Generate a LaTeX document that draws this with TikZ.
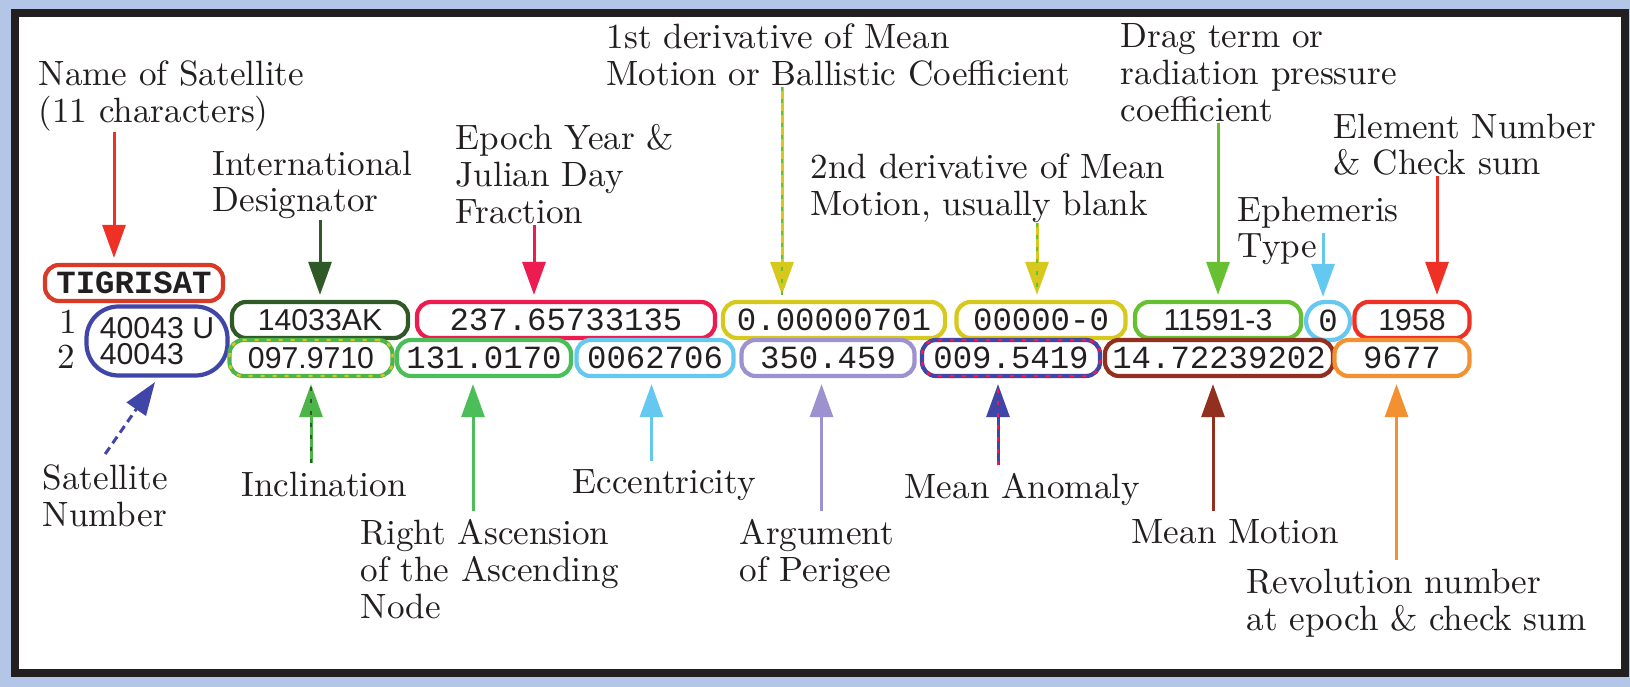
\documentclass[tikz,border=0pt]{standalone}
\usepackage{fontspec}
\setmonofont{Liberation Mono}
\setsansfont{Liberation Sans}
\usepackage{xcolor}
\usetikzlibrary{arrows.meta}

\definecolor{bgblue}{RGB}{180,198,231}
\definecolor{ink}{RGB}{35,31,32}
\definecolor{namered}{RGB}{217,58,37}
\definecolor{arrred}{RGB}{238,49,36}
\definecolor{darkgreen}{RGB}{47,90,40}
\definecolor{crimson}{RGB}{237,27,79}
\definecolor{dotyellow}{RGB}{215,200,30}
\definecolor{midgreen}{RGB}{76,180,72}
\definecolor{raangreen}{RGB}{75,190,90}
\definecolor{draggreen}{RGB}{102,192,50}
\definecolor{skyblue}{RGB}{100,200,240}
\definecolor{lavender}{RGB}{158,145,208}
\definecolor{satblue}{RGB}{64,70,168}
\definecolor{mmbrown}{RGB}{146,48,32}
\definecolor{revorange}{RGB}{243,145,49}

\begin{document}
\begin{tikzpicture}[x=0.1mm, y=-0.1mm,
    lbl/.style={anchor=north west, align=left, inner sep=0pt, text=ink,
                font=\fontsize{10}{10.5}\selectfont},
    val/.style={draw, rounded corners=1.4mm, line width=1.2pt, minimum height=3.6mm,
                inner sep=0pt, text=ink, font=\ttfamily\fontsize{9.2}{10}\selectfont},
    sval/.style={val, font=\sffamily\fontsize{8.6}{10}\selectfont},
    arr/.style={-{Triangle[width=2.3mm, length=3.3mm]}, line width=0.3mm},
    dotover/.style={postaction={draw=#1, line width=0.7pt, dash pattern=on 0.4mm off 0.8mm, -}}
  ]
  \useasboundingbox (0,0) rectangle (1630,687);
  \fill[bgblue] (0,0) rectangle (1630,687);
  \draw[ink, fill=white, line width=0.85mm] (15,13) rectangle (1625,673);

  % name line and line numbers
  \node[val, draw=namered, minimum width=17.8mm,
        font=\ttfamily\bfseries\fontsize{9.2}{10}\selectfont] (satname) at (134,283) {TIGRISAT};
  \node[inner sep=0pt, text=ink, font=\fontsize{10}{10}\selectfont] (linea) at (68,322) {1};
  \node[inner sep=0pt, text=ink, font=\fontsize{10}{10}\selectfont] (lineb) at (66,357) {2};
  \node[sval, draw=satblue, rounded corners=3.2mm, minimum width=14.1mm, minimum height=6.9mm,
        align=left, font=\sffamily\fontsize{8.6}{7.6}\selectfont] (satnum) at (157,341) {40043 U\\40043};

  % line 1
  \node[sval, draw=darkgreen, minimum width=17.6mm] (intdes) at (320,320) {14033AK};
  \node[val, draw=crimson, minimum width=29.8mm] (epoch) at (566,320) {237.65733135};
  \node[val, draw=dotyellow, minimum width=22.2mm] (ndot) at (834,320) {0.00000701};
  \node[val, draw=dotyellow, minimum width=16.9mm] (nddot) at (1041,320) {00000-0};
  \node[sval, draw=draggreen, minimum width=16.6mm] (bstar) at (1218,320) {11591-3};
  \node[val, draw=skyblue, rounded corners=1.9mm, minimum width=4.4mm,
        minimum height=3.8mm] (ephtype) at (1328,321) {0};
  \node[sval, draw=arrred, minimum width=11.5mm] (elset) at (1412,320) {1958};

  % line 2
  \node[sval, draw=midgreen, dotover=dotyellow, minimum width=16.3mm] (incl) at (311,358) {097.9710};
  \node[val, draw=raangreen, minimum width=17.4mm] (raan) at (484,358) {131.0170};
  \node[val, draw=skyblue, minimum width=15.7mm] (ecc) at (655,358) {0062706};
  \node[val, draw=lavender, minimum width=17.3mm] (argp) at (828,358) {350.459};
  \node[val, draw=satblue, dotover=crimson, minimum width=17.8mm] (manom) at (1011,358) {009.5419};
  \node[val, draw=mmbrown, minimum width=22.8mm] (mmotion) at (1219,358) {14.72239202};
  \node[val, draw=revorange, minimum width=13.5mm] (revnum) at (1402,358) {9677};

  % labels above
  \node[lbl] (satnamelbl) at (38,60) {Name of Satellite\\(11 characters)};
  \node[lbl] (intdeslbl) at (212,150) {International\\Designator};
  \node[lbl] (epochlbl) at (455,124) {Epoch Year \&\\Julian Day\\Fraction};
  \node[lbl] (ndotlbl) at (606,23) {1st derivative of Mean\\Motion or Ballistic Coefficient};
  \node[lbl] (nddotlbl) at (810,153) {2nd derivative of Mean\\Motion, usually blank};
  \node[lbl] (bstarlbl) at (1120,23) {Drag term or\\radiation pressure\\coefficient};
  \node[lbl] (elsetlbl) at (1333,113) {Element Number\\\& Check sum};
  \node[lbl] (ephtypelbl) at (1237,196) {Ephemeris\\Type};

  % labels below
  \node[lbl] (satnumlbl) at (42,464) {Satellite\\Number};
  \node[lbl] (incllbl) at (241,471) {Inclination};
  \node[lbl] (raanlbl) at (360,519) {Right Ascension\\of the Ascending\\Node};
  \node[lbl] (ecclbl) at (572,469) {Eccentricity};
  \node[lbl] (argplbl) at (739,519) {Argument\\of Perigee};
  \node[lbl] (manomlbl) at (904,473) {Mean Anomaly};
  \node[lbl] (mmotionlbl) at (1131,519) {Mean Motion};
  \node[lbl] (revnumlbl) at (1246,568) {Revolution number\\at epoch \& check sum};

  % arrows down to line 1
  \draw[arr, arrred] ([xshift=-2mm]satname.north |- satnamelbl.south) -- ([xshift=-2mm, yshift=0.5mm]satname.north);
  \draw[arr, darkgreen] (intdeslbl.south -| intdes.north) -- ([yshift=0.5mm]intdes.north);
  \draw[arr, crimson] ([xshift=-3.2mm]epoch.north |- epochlbl.south) -- ([xshift=-3.2mm, yshift=0.5mm]epoch.north);
  \draw[arr, dotyellow, dotover=draggreen] ([xshift=-5.2mm]ndot.north |- ndotlbl.south) -- ([xshift=-5.2mm, yshift=0.5mm]ndot.north);
  \draw[arr, dotyellow, dotover=draggreen] ([xshift=-0.4mm]nddot.north |- nddotlbl.south) -- ([xshift=-0.4mm, yshift=0.5mm]nddot.north);
  \draw[arr, draggreen] (bstarlbl.south -| bstar.north) -- ([yshift=0.5mm]bstar.north);
  \draw[arr, skyblue] ([xshift=-0.5mm, yshift=3.3mm]ephtype.north |- ephtypelbl.south) -- ([xshift=-0.5mm, yshift=0.3mm]ephtype.north);
  \draw[arr, arrred] ([xshift=2.5mm]elset.north |- elsetlbl.south) -- ([xshift=2.5mm, yshift=0.5mm]elset.north);

  % arrows up to line 2
  \draw[arr, satblue, dash pattern=on 0.8mm off 0.5mm] ([yshift=1mm]satnumlbl.north) -- ([xshift=-0.2mm, yshift=-0.45mm]satnum.south);
  \draw[arr, midgreen, dotover=darkgreen] ([yshift=0.8mm]incl.south |- incllbl.north) -- ([yshift=-0.6mm]incl.south);
  \draw[arr, raangreen] ([xshift=-1.1mm, yshift=0.8mm]raan.south |- raanlbl.north) -- ([xshift=-1.1mm, yshift=-0.6mm]raan.south);
  \draw[arr, skyblue] ([xshift=-0.35mm, yshift=0.8mm]ecc.south |- ecclbl.north) -- ([xshift=-0.35mm, yshift=-0.6mm]ecc.south);
  \draw[arr, lavender] ([xshift=-0.65mm, yshift=0.8mm]argp.south |- argplbl.north) -- ([xshift=-0.65mm, yshift=-0.6mm]argp.south);
  \draw[arr, satblue, dotover=crimson] ([xshift=-1.3mm, yshift=0.8mm]manom.south |- manomlbl.north) -- ([xshift=-1.3mm, yshift=-0.6mm]manom.south);
  \draw[arr, mmbrown] ([xshift=-0.6mm, yshift=0.8mm]mmotion.south |- mmotionlbl.north) -- ([xshift=-0.6mm, yshift=-0.6mm]mmotion.south);
  \draw[arr, revorange] ([xshift=-0.55mm, yshift=0.8mm]revnum.south |- revnumlbl.north) -- ([xshift=-0.55mm, yshift=-0.6mm]revnum.south);
\end{tikzpicture}
\end{document}
